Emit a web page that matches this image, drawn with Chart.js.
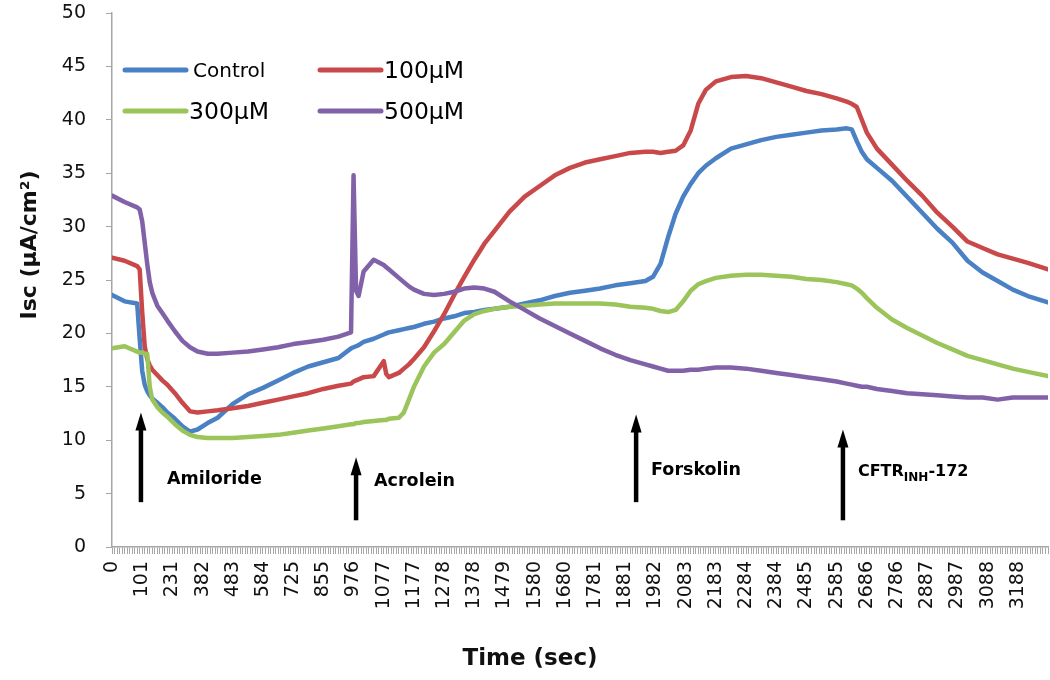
<!DOCTYPE html>
<html>
<head>
<meta charset="utf-8">
<title>Isc - acrolein</title>
<script src="https://cdn.jsdelivr.net/npm/chart.js@4.4.1/dist/chart.umd.min.js"></script>
<style>
  html, body { margin: 0; padding: 0; background: #fff; }
  #wrap { width: 1050px; height: 680px; }
</style>
</head>
<body>
<div id="wrap"><canvas id="iscChart" width="1050" height="680"></canvas></div>
<script>
// ==========================================
// DATA
// ==========================================
// x labels shown under every 12th sample
const tickLabels = ['0', '101', '231', '382', '483', '584', '725', '855', '976', '1077',
  '1177', '1278', '1378', '1479', '1580', '1680', '1781', '1881', '1982', '2083',
  '2183', '2284', '2384', '2485', '2585', '2686', '2786', '2887', '2987', '3088', '3188'];
const samplesPerLabel = 12;
const lastSample = 372;

const seriesLabels = ['Control', '100µM', '300µM', '500µM'];

// sample number (category position) of each reading below
const sampleIdx = [0, 5, 10, 11, 12, 13, 14, 15, 16, 18,
  20, 22, 25, 28, 31, 34, 38, 42, 48, 54,
  60, 66, 72, 78, 84, 90, 95, 96, 97, 98,
  100, 104, 108, 109, 110, 114, 116, 118, 120, 124,
  128, 132, 136, 140, 144, 148, 152, 158, 164, 170,
  176, 182, 188, 194, 200, 206, 212, 215, 218, 221,
  224, 227, 230, 233, 236, 240, 246, 252, 258, 264,
  270, 276, 282, 288, 292, 294, 296, 298, 300, 304,
  310, 316, 322, 328, 334, 340, 346, 352, 358, 364,
  372];

const iscControl = [23.6, 23.0, 22.8, 19.5, 16.5, 15.2, 14.6, 14.2, 13.9, 13.5,
  13.1, 12.6, 12.0, 11.3, 10.8, 11.0, 11.6, 12.1, 13.4, 14.3,
  14.9, 15.6, 16.3, 16.9, 17.3, 17.7, 18.6, 18.7, 18.8, 18.9,
  19.2, 19.5, 19.9, 20.0, 20.1, 20.3, 20.4, 20.5, 20.6, 20.9,
  21.1, 21.4, 21.6, 21.9, 22.0, 22.2, 22.3, 22.5, 22.8, 23.1,
  23.5, 23.8, 24.0, 24.2, 24.5, 24.7, 24.9, 25.3, 26.5, 29.0,
  31.2, 32.8, 34.0, 35.0, 35.7, 36.4, 37.3, 37.7, 38.1, 38.4,
  38.6, 38.8, 39.0, 39.1, 39.2, 39.1, 38.0, 37.0, 36.3, 35.5,
  34.3, 32.8, 31.3, 29.8, 28.5, 26.8, 25.7, 24.9, 24.1, 23.5,
  22.9];

const isc100 = [27.1, 26.8, 26.3, 26.0, 22.0, 18.8, 17.6, 17.0, 16.6, 16.1,
  15.6, 15.2, 14.4, 13.5, 12.7, 12.6, 12.7, 12.8, 13.0, 13.2,
  13.5, 13.8, 14.1, 14.4, 14.8, 15.1, 15.3, 15.5, 15.6, 15.7,
  15.9, 16.0, 17.4, 16.2, 15.9, 16.3, 16.7, 17.1, 17.6, 18.7,
  20.2, 21.8, 23.6, 25.3, 26.9, 28.4, 29.6, 31.4, 32.8, 33.8,
  34.8, 35.5, 36.0, 36.3, 36.6, 36.9, 37.0, 37.0, 36.9, 37.0,
  37.1, 37.6, 39.0, 41.5, 42.8, 43.6, 44.0, 44.1, 43.9, 43.5,
  43.1, 42.7, 42.4, 42.0, 41.7, 41.5, 41.2, 40.0, 38.8, 37.3,
  35.8, 34.3, 32.9, 31.3, 30.0, 28.6, 28.0, 27.4, 27.0, 26.6,
  26.0];

const isc300 = [18.6, 18.8, 18.3, 18.2, 18.2, 18.1, 18.1, 15.0, 13.8, 13.1,
  12.6, 12.2, 11.5, 10.9, 10.5, 10.3, 10.2, 10.2, 10.2, 10.3,
  10.4, 10.5, 10.7, 10.9, 11.1, 11.3, 11.5, 11.5, 11.6, 11.6,
  11.7, 11.8, 11.9, 11.9, 12.0, 12.1, 12.6, 13.8, 15.0, 16.9,
  18.2, 19.0, 20.1, 21.2, 21.8, 22.1, 22.3, 22.5, 22.6, 22.7,
  22.8, 22.8, 22.8, 22.8, 22.7, 22.5, 22.4, 22.3, 22.1, 22.0,
  22.2, 23.0, 24.0, 24.6, 24.9, 25.2, 25.4, 25.5, 25.5, 25.4,
  25.3, 25.1, 25.0, 24.8, 24.6, 24.5, 24.2, 23.8, 23.3, 22.4,
  21.3, 20.5, 19.8, 19.1, 18.5, 17.9, 17.5, 17.1, 16.7, 16.4,
  16.0];

const isc500 = [32.9, 32.3, 31.8, 31.6, 30.5, 28.5, 26.5, 24.8, 23.8, 22.6,
  21.9, 21.2, 20.2, 19.3, 18.7, 18.3, 18.1, 18.1, 18.2, 18.3,
  18.5, 18.7, 19.0, 19.2, 19.4, 19.7, 20.1, 34.8, 24.0, 23.5,
  25.8, 26.9, 26.4, 26.2, 26.0, 25.2, 24.8, 24.4, 24.1, 23.7,
  23.6, 23.7, 23.9, 24.2, 24.3, 24.2, 23.9, 23.0, 22.2, 21.4,
  20.7, 20.0, 19.3, 18.6, 18.0, 17.5, 17.1, 16.9, 16.7, 16.5,
  16.5, 16.5, 16.6, 16.6, 16.7, 16.8, 16.8, 16.7, 16.5, 16.3,
  16.1, 15.9, 15.7, 15.5, 15.3, 15.2, 15.1, 15.0, 15.0, 14.8,
  14.6, 14.4, 14.3, 14.2, 14.1, 14.0, 14.0, 13.8, 14.0, 14.0,
  14.0];

// drug additions (sample number where the arrow stands)
const eventLabels = ['Amiloride', 'Acrolein', 'Forskolin', 'CFTR'];
const eventIdx = [11.5, 97, 208.3, 290.5];

const seriesColors = ['#4a80c4', '#c9494a', '#9bc45a', '#8162a8'];
const FONT = "'DejaVu Sans', sans-serif";

function toPoints(values) {
    return sampleIdx.map((ix, i) => ({ x: ix, y: values[i] }));
}

// ==========================================
// PLUGIN: arrows, legend and axis titles
// ==========================================
const extrasPlugin = {
    id: 'extras',
    afterDatasetsDraw(chart) {
        const { ctx, scales: { x, y } } = chart;
        // arrow top / bottom in Isc units, label offset in px
        const marks = [
            { top: 12.6, bottom: 4.2, dx: 26, ly: 6.3 },
            { top: 8.4, bottom: 2.5, dx: 18, ly: 6.1 },
            { top: 12.4, bottom: 4.2, dx: 15, ly: 7.2 },
            { top: 11.0, bottom: 2.5, dx: 15, ly: 7.0 }
        ];
        ctx.save();
        ctx.fillStyle = '#000';
        ctx.strokeStyle = '#000';
        eventIdx.forEach((ix, i) => {
            const m = marks[i];
            const px = x.getPixelForValue(ix);
            const top = y.getPixelForValue(m.top);
            const bottom = y.getPixelForValue(m.bottom);
            // shaft
            ctx.lineWidth = 4.5;
            ctx.beginPath();
            ctx.moveTo(px, bottom);
            ctx.lineTo(px, top + 14);
            ctx.stroke();
            // head
            ctx.beginPath();
            ctx.moveTo(px, top);
            ctx.lineTo(px - 5.5, top + 18);
            ctx.lineTo(px + 5.5, top + 18);
            ctx.closePath();
            ctx.fill();

            // label
            const lx = px + m.dx;
            const ly = y.getPixelForValue(m.ly);
            ctx.textBaseline = 'middle';
            ctx.textAlign = 'left';
            if (eventLabels[i] === 'CFTR') {
                ctx.font = 'bold 16px ' + FONT;
                ctx.fillText('CFTR', lx, ly);
                let w = ctx.measureText('CFTR').width;
                ctx.font = 'bold 12px ' + FONT;
                ctx.fillText('INH', lx + w, ly + 6);
                w += ctx.measureText('INH').width;
                ctx.font = 'bold 16px ' + FONT;
                ctx.fillText('-172', lx + w, ly);
            } else {
                ctx.font = 'bold 17.5px ' + FONT;
                ctx.fillText(eventLabels[i], lx, ly);
            }
        });
        ctx.restore();
    },
    afterDraw(chart) {
        const { ctx, chartArea } = chart;
        ctx.save();

        // legend, 2 x 2 inside the plot
        const cols = [chartArea.left + 13, chartArea.left + 208];
        const rows = [chartArea.top + 57, chartArea.top + 98];
        chart.data.datasets.forEach((ds, i) => {
            const lx = cols[i % 2];
            const ly = rows[Math.floor(i / 2)];
            ctx.strokeStyle = ds.borderColor;
            ctx.lineWidth = 5;
            ctx.lineCap = 'round';
            ctx.beginPath();
            ctx.moveTo(lx, ly);
            ctx.lineTo(lx + 61, ly);
            ctx.stroke();
            ctx.fillStyle = '#000';
            ctx.font = (i === 0 ? '20px ' : '23.5px ') + FONT;
            ctx.textBaseline = 'middle';
            ctx.textAlign = 'left';
            ctx.fillText(ds.label, lx + (i === 0 ? 68 : 64), ly + 2);
        });

        // axis titles
        ctx.fillStyle = '#111';
        ctx.font = 'bold 23px ' + FONT;
        ctx.textAlign = 'center';
        ctx.textBaseline = 'middle';
        ctx.fillText('Time (sec)', 530, 659);

        ctx.translate(30, 245);
        ctx.rotate(-Math.PI / 2);
        ctx.font = 'bold 22px ' + FONT;
        ctx.fillText('Isc (µA/cm²)', 0, 0);
        ctx.restore();
    }
};

// ==========================================
// CHART
// ==========================================
const allSeries = [iscControl, isc100, isc300, isc500];

const ctx = document.getElementById('iscChart').getContext('2d');
const chartInstance = new Chart(ctx, {
    type: 'line',
    data: {
        datasets: allSeries.map((vals, i) => ({
            label: seriesLabels[i],
            data: toPoints(vals),
            borderColor: seriesColors[i],
            backgroundColor: seriesColors[i],
            borderWidth: 4.5,
            pointRadius: 0,
            tension: 0,
            borderJoinStyle: 'round',
            borderCapStyle: 'round',
            order: 4 - i
        }))
    },
    options: {
        responsive: false,
        animation: false,
        layout: { padding: { top: 13, left: 0, right: 0, bottom: 0 } },
        plugins: {
            legend: { display: false },
            tooltip: { enabled: false }
        },
        scales: {
            x: {
                type: 'linear',
                min: 0,
                max: lastSample,
                ticks: {
                    stepSize: 1,
                    autoSkip: false,
                    minRotation: 90,
                    maxRotation: 90,
                    padding: 7,
                    color: '#111',
                    font: { family: FONT, size: 19 },
                    callback: v => (v % samplesPerLabel === 0 ? (tickLabels[v / samplesPerLabel] || '') : '')
                },
                grid: { drawOnChartArea: false, tickLength: 7, color: '#a6a6a6' },
                border: { color: '#a6a6a6', width: 1.5 },
                afterFit: s => { s.height = 133; s.paddingLeft = 0; s.paddingRight = 2; }
            },
            y: {
                min: 0,
                max: 50,
                ticks: {
                    stepSize: 5,
                    padding: 20,
                    color: '#111',
                    font: { family: FONT, size: 19 }
                },
                grid: { drawOnChartArea: false, tickLength: 6, color: '#a6a6a6' },
                border: { color: '#a6a6a6', width: 1.5 },
                afterFit: s => { s.width = 112; s.paddingTop = 0; s.paddingBottom = 0; }
            }
        }
    },
    plugins: [extrasPlugin]
});
</script>
</body>
</html>
